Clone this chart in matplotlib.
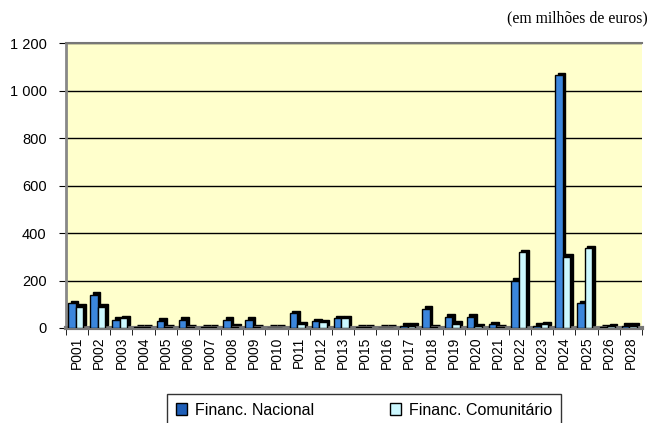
import matplotlib
matplotlib.use("Agg")
import matplotlib.pyplot as plt
from matplotlib.patches import Patch
from matplotlib.transforms import ScaledTranslation
import numpy as np

categories = ["P001", "P002", "P003", "P004", "P005", "P006", "P007", "P008", "P009",
              "P010", "P011", "P012", "P013", "P015", "P016", "P017", "P018", "P019",
              "P020", "P021", "P022", "P023", "P024", "P025", "P026", "P028"]
nacional = [105, 140, 35, 3, 30, 35, 3, 35, 35,
            2, 62, 28, 42, 3, 2, 10, 82, 48,
            48, 15, 200, 10, 1065, 105, 3, 10]
comunitario = [90, 90, 40, 3, 3, 3, 3, 5, 3,
               2, 15, 25, 42, 3, 2, 10, 3, 18,
               8, 3, 320, 15, 300, 335, 8, 10]
ytick_vals = [0, 200, 400, 600, 800, 1000, 1200]
ytick_labels = ["0", "200", "400", "600", "800", "1 000", "1 200"]

plt.rcParams['font.family'] = ['Liberation Sans', 'DejaVu Sans']

fig = plt.figure(figsize=(6.57, 4.23), dpi=100)
ax = fig.add_axes([0.1005, 0.2246, 0.8765, 0.6734])
ax.set_facecolor('#ffffcc')

x = np.arange(len(categories))
w = 0.34
nac_col = '#3b86dc'
com_col = '#ccf8ff'

depth = ScaledTranslation(0.025, 0.025, fig.dpi_scale_trans)
for vals, off, col in [(nacional, -0.24, nac_col), (comunitario, 0.10, com_col)]:
    ax.bar(x + off, vals, width=w, color='black', edgecolor='black', linewidth=1.0,
           transform=ax.transData + depth, zorder=3, align='center')
    ax.bar(x + off, vals, width=w, color=col, edgecolor='black', linewidth=1.0,
           zorder=4, align='center')

ax.set_xlim(-0.5, len(categories) - 0.5)
ax.set_ylim(0, 1200)
ax.set_yticks(ytick_vals)
ax.set_yticklabels(ytick_labels, fontsize=10.5)
ax.yaxis.grid(True, color='black', linewidth=1.0, zorder=1)
ax.set_axisbelow(True)

ax.set_xticks(x)
ax.set_xticklabels(categories, rotation=90, fontsize=10)
ax.set_xticks(np.arange(-0.5, len(categories)), minor=True)
ax.tick_params(axis='x', which='major', length=0, pad=6)
ax.tick_params(axis='x', which='minor', length=5, direction='out', color='black')
ax.tick_params(axis='y', length=5, direction='out', color='black', pad=9)

ax.spines['right'].set_visible(False)
ax.spines['top'].set_color('#777777')
ax.spines['top'].set_linewidth(1.5)
ax.spines['left'].set_color('#888888')
ax.spines['left'].set_linewidth(2.0)
ax.spines['bottom'].set_color('#777777')
ax.spines['bottom'].set_linewidth(3.0)

fig.text(0.986, 0.957, "(em milhões de euros)", ha='right', va='center',
         fontsize=11.3, family=['Liberation Serif', 'DejaVu Serif'])

handles = [Patch(facecolor='#1f5fb8', edgecolor='black', linewidth=1.0),
           Patch(facecolor=com_col, edgecolor='black', linewidth=1.0)]
leg = fig.legend(handles, ["Financ. Nacional", "Financ. Comunitário"],
                 loc='upper center', bbox_to_anchor=(0.2542, -0.1, 0.5997, 0.169),
                 mode='expand', ncol=2,
                 fontsize=11.5, frameon=True, fancybox=False, edgecolor='black',
                 handlelength=0.7, handleheight=0.7, handletextpad=0.5,
                 columnspacing=2.5, borderpad=0.55, borderaxespad=0.0)
leg.get_frame().set_linewidth(1.0)

fig.savefig("out.png", dpi=100)
